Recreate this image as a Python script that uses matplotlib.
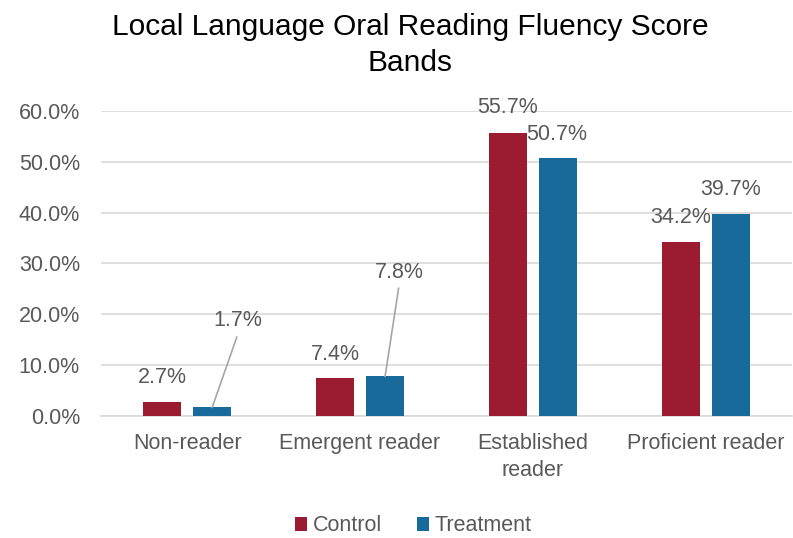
import numpy as np
import matplotlib.pyplot as plt

categories = ["Non-reader", "Emergent reader", "Established\nreader", "Proficient reader"]
control = [2.7, 7.4, 55.7, 34.2]
treatment = [1.7, 7.8, 50.7, 39.7]

# label centres: (dx from bar centre in category units, y in %), leader flag
ctrl_lab = [(0.0, 7.5, False), (0.0, 12.0, False), (0.0, 60.6, False), (0.0, 39.0, False)]
treat_lab = [(0.147, 18.7, True), (0.083, 28.3, True), (-0.01, 55.3, False), (0.0, 44.5, False)]

red = "#9B1B30"
blue = "#176A9A"
grey = "#595959"

plt.rcParams['font.family'] = ['Liberation Sans', 'DejaVu Sans']

fig = plt.figure(figsize=(7.93, 5.38), dpi=100)
ax = fig.add_axes([0.127, 0.2268, 0.872, 0.567])

x = np.arange(len(categories))
w = 0.22
off = 0.145
ax.bar(x - off, control, w, color=red, label="Control", zorder=3)
ax.bar(x + off, treatment, w, color=blue, label="Treatment", zorder=3)

for i, v in enumerate(control):
    dx, ty, _ = ctrl_lab[i]
    ax.text(x[i] - off + dx, ty, f"{v:.1f}%", ha="center", va="center",
            fontsize=15.5, color=grey, zorder=5)
for i, v in enumerate(treatment):
    dx, ty, lead = treat_lab[i]
    tx = x[i] + off + dx
    ax.text(tx, ty, f"{v:.1f}%", ha="center", va="center", fontsize=15.5,
            color=grey, zorder=5)
    if lead:
        ax.plot([x[i] + off, tx - 0.005], [v, ty - 3.2], color="#A6A6A6", lw=1.2,
                zorder=4)

ax.set_ylim(0, 60)
ax.set_xlim(-0.5, 3.5)
ax.set_yticks(np.arange(0, 61, 10))
ax.set_yticklabels([f"{t:.1f}%" for t in np.arange(0, 61, 10)])
ax.set_xticks(x)
ax.set_xticklabels(categories, linespacing=1.4)
ax.tick_params(axis="both", length=0, labelsize=15.5, labelcolor=grey)
ax.tick_params(axis="y", pad=15)
ax.tick_params(axis="x", pad=12)
ax.grid(axis="y", color="#D9D9D9", lw=1.2, zorder=0)
for s in ["top", "right", "left"]:
    ax.spines[s].set_visible(False)
ax.spines["bottom"].set_color("#D9D9D9")
ax.spines["bottom"].set_linewidth(1.2)

fig.text(0.517, 0.975, "Local Language Oral Reading Fluency Score\nBands",
         ha="center", va="top", fontsize=21.5, color="black", linespacing=1.35)

fig.legend(loc="lower center", bbox_to_anchor=(0.521, -0.033), ncol=2, frameon=False,
           fontsize=15.5, labelcolor=grey, handlelength=0.6, handleheight=0.6,
           handletextpad=0.25, columnspacing=1.6)

fig.savefig("out.png", dpi=100)
